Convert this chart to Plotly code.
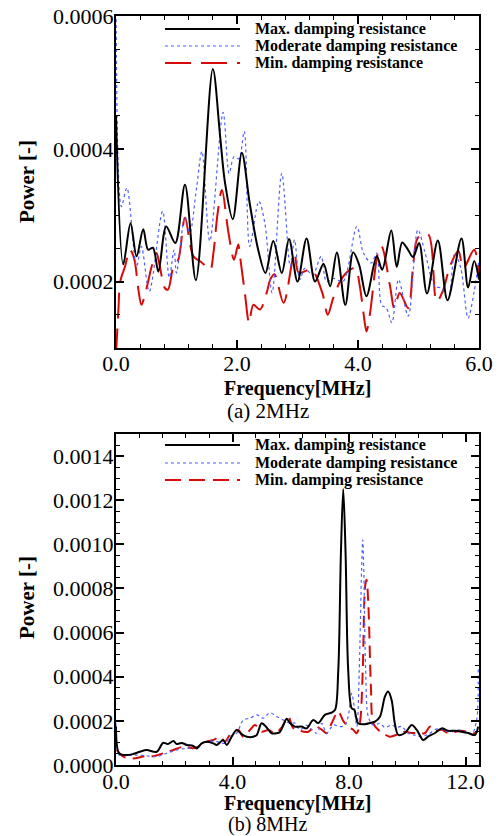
import numpy as np
import plotly.graph_objects as go

W, H = 503, 836

# ---------------- (a) 2 MHz ----------------
f_max_a = [0.00, 0.12, 0.24, 0.34, 0.45, 0.53, 0.61, 0.70, 0.83, 0.98, 1.14, 1.32, 1.60, 1.72, 1.80,
           1.93, 2.08, 2.21, 2.35, 2.47, 2.60, 2.74, 2.86, 3.00, 3.15, 3.29, 3.43, 3.54, 3.65, 3.79,
           3.92, 4.02, 4.14, 4.31, 4.40, 4.55, 4.64, 4.73, 4.82, 4.91, 5.01, 5.14, 5.32, 5.48, 5.71,
           5.82, 5.92, 6.00]
p_max_a = [4.5, 2.26, 2.88, 2.38, 2.79, 2.48, 2.51, 2.15, 2.83, 2.58, 3.46, 2.02, 5.20, 4.2, 3.5,
           2.94, 3.94, 3.18, 2.48, 2.13, 2.61, 2.13, 2.64, 2.00, 2.65, 2.00, 2.27, 1.93, 2.44, 1.65,
           2.44, 2.25, 1.78, 2.38, 2.18, 2.77, 2.22, 2.59, 2.49, 2.37, 2.58, 1.82, 2.62, 1.72, 2.65,
           1.91, 2.31, 2.03]

f_mod_a = [0.00, 0.09, 0.18, 0.34, 0.42, 0.55, 0.77, 0.88, 0.96, 1.00, 1.14, 1.22, 1.33, 1.42, 1.55,
           1.77, 1.87, 1.95, 2.03, 2.12, 2.21, 2.36, 2.46, 2.58, 2.74, 2.88, 2.95, 3.04, 3.12, 3.25,
           3.39, 3.48, 3.60, 3.75, 3.98, 4.09, 4.22, 4.31, 4.39, 4.47, 4.56, 4.67, 4.83, 4.99, 5.11,
           5.27, 5.38, 5.49, 5.60, 5.70, 5.82, 5.92, 6.00]
p_mod_a = [6.5, 3.13, 3.41, 2.23, 2.53, 1.85, 3.06, 2.06, 2.48, 2.13, 2.98, 2.73, 3.40, 3.96, 2.61,
           4.55, 3.63, 3.88, 3.85, 4.26, 2.53, 3.21, 2.88, 1.83, 3.63, 2.23, 2.63, 2.03, 2.20, 2.10,
           2.38, 2.00, 2.05, 2.00, 2.83, 2.43, 2.28, 2.43, 1.65, 1.60, 1.38, 2.03, 1.48, 2.78, 2.43,
           1.93, 1.90, 1.73, 2.43, 2.20, 1.45, 1.85, 2.33]

f_min_a = [0.00, 0.04, 0.07, 0.15, 0.23, 0.30, 0.37, 0.42, 0.50, 0.59, 0.67, 0.72, 0.81, 0.86, 0.95,
           1.03, 1.14, 1.28, 1.40, 1.50, 1.56, 1.61, 1.68, 1.75, 1.86, 1.95, 2.02, 2.05, 2.13, 2.20,
           2.27, 2.38, 2.49, 2.55, 2.62, 2.77, 2.95, 3.02, 3.23, 3.41, 3.50, 3.59, 3.72, 3.87, 3.96,
           4.03, 4.09, 4.14, 4.20, 4.33, 4.39, 4.53, 4.60, 4.69, 4.83, 4.91, 4.99, 5.16, 5.30, 5.41,
           5.52, 5.66, 5.74, 5.92, 6.00]
p_min_a = [0.9, 1.58, 2.00, 2.23, 2.48, 2.35, 1.88, 1.65, 1.88, 2.23, 2.43, 2.25, 1.90, 1.88, 2.23,
           2.33, 2.96, 2.38, 2.30, 2.22, 2.18, 2.43, 3.03, 3.38, 2.73, 2.33, 2.56, 2.38, 1.83, 1.38,
           1.65, 1.58, 1.83, 2.03, 2.11, 1.68, 2.43, 2.13, 2.18, 1.83, 1.50, 1.75, 2.03, 2.18, 2.20,
           1.93, 1.53, 1.25, 1.53, 2.43, 2.53, 1.93, 1.60, 1.83, 1.60, 2.23, 2.66, 2.71, 1.70, 1.88,
           2.23, 2.46, 2.20, 2.48, 2.10]

# ---------------- (b) 8 MHz ----------------
f_max_b = [0.00, 0.11, 0.37, 0.59, 0.82, 1.05, 1.40, 1.62, 1.78, 1.97, 2.08, 2.25, 2.43, 2.65, 2.77,
           2.94, 3.11, 3.34, 3.46, 3.68, 3.80, 3.97, 4.14, 4.31, 4.49, 4.71, 4.83, 5.00, 5.17, 5.34,
           5.51, 5.63, 5.86, 5.97, 6.14, 6.37, 6.54, 6.77, 6.94, 7.17, 7.40, 7.52, 7.63, 7.72, 7.80,
           7.88, 7.97, 8.09, 8.18, 8.31, 8.54, 8.72, 8.89, 9.06, 9.23, 9.34, 9.46, 9.57, 9.69, 9.92,
           10.15, 10.32, 10.55, 10.72, 10.95, 11.18, 11.40, 11.63, 11.86, 12.09, 12.32, 12.43]
p_max_b = [1.74, 0.53, 0.45, 0.50, 0.60, 0.68, 0.60, 1.01, 0.95, 1.09, 0.95, 1.00, 0.91, 0.86, 0.75,
           0.98, 1.05, 0.98, 0.91, 1.13, 0.91, 1.28, 1.59, 1.40, 1.28, 1.28, 1.36, 1.89, 1.70, 1.44,
           1.44, 1.50, 2.10, 1.90, 1.74, 1.74, 1.66, 2.04, 1.90, 2.27, 2.37, 2.50, 4.31, 9.60, 12.50,
           9.60, 4.31, 2.57, 2.50, 1.89, 1.85, 1.90, 1.97, 2.19, 3.10, 3.33, 2.95, 1.89, 1.36, 1.45,
           1.81, 1.60, 1.13, 1.30, 1.45, 1.66, 1.55, 1.55, 1.51, 1.45, 1.36, 1.74]

f_mod_b = [0.00, 0.11, 0.37, 0.71, 1.05, 1.40, 1.74, 2.08, 2.43, 2.77, 3.11, 3.46, 3.74, 3.91, 4.14,
           4.37, 4.60, 4.83, 5.06, 5.28, 5.51, 5.74, 5.97, 6.14, 6.31, 6.54, 6.72, 6.89, 7.06, 7.23,
           7.46, 7.69, 7.86, 7.97, 8.09, 8.18, 8.27, 8.35, 8.43, 8.47, 8.51, 8.57, 8.66, 8.83, 9.06,
           9.23, 9.46, 9.63, 9.80, 10.03, 10.26, 10.49, 10.72, 11.06, 11.29, 11.52, 11.75, 11.98,
           12.21, 12.38, 12.43]
p_mod_b = [1.89, 0.45, 0.43, 0.45, 0.41, 0.38, 0.53, 0.68, 0.76, 0.83, 1.06, 1.06, 0.98, 1.28, 1.44,
           2.04, 2.12, 2.27, 2.12, 2.37, 2.20, 2.04, 1.89, 1.90, 1.59, 1.80, 1.60, 1.44, 1.89, 1.44,
           1.81, 1.74, 1.80, 2.20, 3.25, 2.60, 1.74, 4.31, 8.85, 10.20, 8.54, 4.31, 2.19, 1.80, 1.89,
           1.70, 1.81, 1.70, 1.75, 1.44, 1.35, 1.28, 1.40, 1.66, 1.55, 1.50, 1.59, 1.50,
           1.40, 2.04, 4.46]

f_min_b = [0.02, 0.25, 0.59, 0.94, 1.28, 1.62, 1.97, 2.31, 2.65, 2.88, 3.11, 3.34, 3.57, 3.74, 3.91,
           4.20, 4.37, 4.60, 4.77, 5.00, 5.23, 5.46, 5.69, 5.92, 6.07, 6.31, 6.60, 6.83, 7.06, 7.23,
           7.40, 7.63, 7.80, 7.97, 8.14, 8.26, 8.37, 8.47, 8.55, 8.60, 8.66, 8.75, 8.83, 9.00, 9.17,
           9.40, 9.69, 9.92, 10.15, 10.37, 10.60, 10.78, 10.95, 11.18, 11.40, 11.63, 11.86, 12.09,
           12.32, 12.43]
p_min_b = [0.68, 0.38, 0.30, 0.38, 0.40, 0.53, 0.68, 0.83, 0.76, 0.86, 1.06, 1.13, 1.28, 1.06, 1.36,
           1.59, 1.28, 1.59, 1.81, 1.51, 1.59, 1.44, 1.70, 2.19, 1.70, 1.55, 1.51, 1.75, 1.60, 1.44,
           1.89, 2.42, 2.00, 1.74, 1.60, 1.44, 1.90, 4.31, 8.09, 8.39, 7.34, 3.55, 1.89, 1.60, 1.44,
           1.28, 1.40, 1.51, 1.45, 1.45, 1.44, 1.74, 1.55, 1.60, 1.45, 1.50, 1.55, 1.50,
           1.44, 1.55]

SCALE = 1e-4  # values above are read in units of 1e-4

series_names = ["Max. damping resistance", "Moderate damping resistance", "Min. damping resistance"]

BLACK = "black"
BLUE = "rgb(80,95,255)"
RED = "rgb(215,10,10)"
FONT = "Liberation Serif, Times New Roman, serif"

fig = go.Figure()

def add(fx, vals, color, width, dash, xa, ya, name):
    fig.add_trace(go.Scatter(
        x=fx, y=np.array(vals) * SCALE, mode="lines", name=name,
        line=dict(color=color, width=width, dash=dash, shape="spline", smoothing=0.9),
        xaxis=xa, yaxis=ya, showlegend=False, hoverinfo="skip"))

# draw order: red, blue, black on top
add(f_min_a, p_min_a, RED, 2, "26px,10px", "x", "y", series_names[2])
add(f_mod_a, p_mod_a, BLUE, 1.2, "dot", "x", "y", series_names[1])
add(f_max_a, p_max_a, BLACK, 2, "solid", "x", "y", series_names[0])

add(f_min_b, p_min_b, RED, 2, "12px,7px", "x2", "y2", series_names[2])
add(f_mod_b, p_mod_b, BLUE, 1.2, "dot", "x2", "y2", series_names[1])
add(f_max_b, p_max_b, BLACK, 2, "solid", "x2", "y2", series_names[0])

# window pixel -> paper fraction
def px(x):
    return x / W

def py(y):
    return 1 - y / H

xdom = [px(116), px(479)]
top_dom = [py(348), py(16)]
bot_dom = [py(765), py(434)]

tickfont = dict(family=FONT, size=22, color="black")
common = dict(showgrid=False, zeroline=False, showline=True, linecolor="black", linewidth=2,
              mirror="allticks", ticks="inside", ticklen=8, tickwidth=1.5, tickcolor="black",
              tickfont=tickfont, automargin=False, ticklabeloverflow="allow")
minor_style = dict(ticklen=4, ticks="inside", tickcolor="black", tickwidth=1)

fig.update_layout(
    width=W, height=H, margin=dict(l=0, r=0, t=0, b=0, pad=0, autoexpand=False),
    paper_bgcolor="white", plot_bgcolor="white",
    xaxis=dict(domain=xdom, anchor="y", range=[0, 6.0], dtick=2.0, tick0=0, tickformat=".1f",
               ticklabelstandoff=-5, minor=dict(dtick=0.4, **minor_style), **common),
    yaxis=dict(domain=top_dom, anchor="x", range=[0.0001, 0.0006], dtick=0.0002, tick0=0,
               tickformat=".4f", ticklabelstandoff=-4,
               minor=dict(dtick=0.00005, **minor_style), **common),
    xaxis2=dict(domain=xdom, anchor="y2", range=[0, 12.46], dtick=4.0, tick0=0, tickformat=".1f",
                ticklabelstandoff=-4, minor=dict(dtick=0.8, **minor_style), **common),
    yaxis2=dict(domain=bot_dom, anchor="x2", range=[0, 0.0015], dtick=0.0002, tick0=0,
                tickformat=".4f", ticklabelstandoff=-4,
                minor=dict(dtick=0.00005, **minor_style), **common),
)

ann = []
shapes = []

def label(text, x, y, size, bold=False, angle=0, xanchor="center"):
    t = f"<b>{text}</b>" if bold else text
    ann.append(dict(text=t, x=px(x), y=py(y), xref="paper", yref="paper", showarrow=False,
                    xanchor=xanchor, yanchor="middle", textangle=angle,
                    font=dict(family=FONT, size=size, color="black")))

# axis titles and captions
label("Frequency[MHz]", 297, 388, 20, bold=True)
label("Power [-]", 27, 182, 21, bold=True, angle=-90)
label("(a) 2MHz", 268, 411, 21)
label("Frequency[MHz]", 297, 803, 20, bold=True)
label("Power [-]", 27, 598, 21, bold=True, angle=-90)
label("(b) 8MHz", 268, 824, 20)

# legends (line samples + text)
def legend(rows_y, dashes):
    styles = [(BLACK, 2, "solid"), (BLUE, 1.2, "dot"), (RED, 2, dashes)]
    for (c, w, d), yy, name in zip(styles, rows_y, series_names):
        shapes.append(dict(type="line", xref="paper", yref="paper",
                           x0=px(165), x1=px(240), y0=py(yy), y1=py(yy),
                           line=dict(color=c, width=w, dash=d)))
        label(name, 253, yy, 16, bold=True, xanchor="left")

legend([29, 46, 63], "26px,10px")
legend([445, 463, 480], "16px,8px")

fig.update_layout(annotations=ann, shapes=shapes)

# remove the browser's default 8px page margin so the figure fills the window exactly
fig.write_html("out.html", config={"displayModeBar": False},
               post_script="document.body.style.margin='0px';document.body.style.overflow='hidden';")
